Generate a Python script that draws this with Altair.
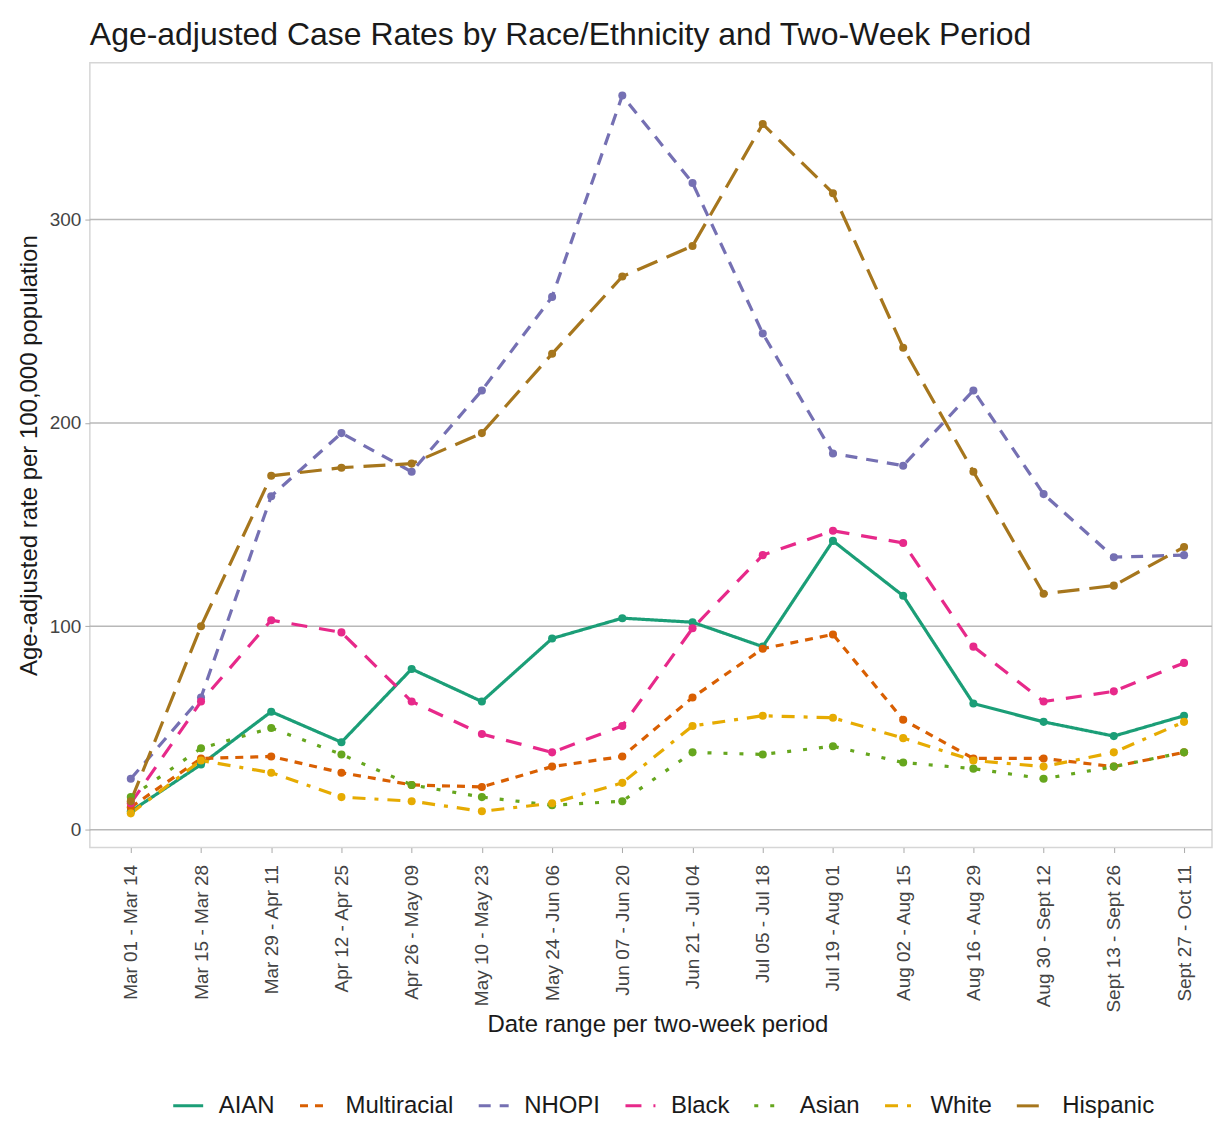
import altair as alt
import pandas as pd

periods = ["Mar 01 - Mar 14", "Mar 15 - Mar 28", "Mar 29 - Apr 11", "Apr 12 - Apr 25",
           "Apr 26 - May 09", "May 10 - May 23", "May 24 - Jun 06", "Jun 07 - Jun 20",
           "Jun 21 - Jul 04", "Jul 05 - Jul 18", "Jul 19 - Aug 01", "Aug 02 - Aug 15",
           "Aug 16 - Aug 29", "Aug 30 - Sept 12", "Sept 13 - Sept 26", "Sept 27 - Oct 11"]

groups = ["AIAN", "Multiracial", "NHOPI", "Black", "Asian", "White", "Hispanic"]

aian = [9, 32, 58, 43, 79, 63, 94, 104, 102, 90, 142, 115, 62, 53, 46, 56]
multiracial = [11, 35, 36, 28, 22, 21, 31, 36, 65, 89, 96, 54, 35, 35, 31, 38]
nhopi = [25, 65, 164, 195, 176, 216, 262, 361, 318, 244, 185, 179, 216, 165, 134, 135]
black = [13, 63, 103, 97, 63, 47, 38, 51, 99, 135, 147, 141, 90, 63, 68, 82]
asian = [16, 40, 50, 37, 22, 16, 12, 14, 38, 37, 41, 33, 30, 25, 31, 38]
white = [8, 34, 28, 16, 14, 9, 13, 23, 51, 56, 55, 45, 34, 31, 38, 53]
hispanic = [14, 100, 174, 178, 180, 195, 234, 272, 287, 347, 313, 237, 176, 116, 120, 139]

y_ticks = [0, 100, 200, 300]

series = [aian, multiracial, nhopi, black, asian, white, hispanic]

colors = ["#1b9e77", "#d95f02", "#7570b3", "#e7298a", "#66a61e", "#e6ab02", "#a6761d"]
dashes = [[1, 0], [8, 7], [12, 9], [16, 12], [4, 12], [13, 9, 4, 9], [22, 10]]

rows = []
for g, vals in zip(groups, series):
    for p, v in zip(periods, vals):
        rows.append({"group": g, "period": p, "rate": v})
df = pd.DataFrame(rows)
grid_df = pd.DataFrame({"rate": y_ticks})

FONT = "Liberation Sans"
PLOT_W = 1124
PLOT_H = 786

x_enc = alt.X(
    "period:O",
    sort=periods,
    scale=alt.Scale(type="point", padding=0, range=[41, 1096]),
    axis=alt.Axis(
        title="Date range per two-week period",
        labelAngle=270,
        labelAlign="right",
        labelBaseline="middle",
        labelFontSize=19,
        labelColor="#444444",
        labelPadding=12,
        tickSize=5,
        tickColor="#aaaaaa",
        domain=False,
        grid=False,
        titleFontSize=24,
        titleFontWeight="normal",
        titleColor="#1a1a1a",
        titlePadding=0,
    ),
)

y_scale = alt.Scale(domain=[-8.8, 377.1], nice=False, zero=False)

y_axis = alt.Axis(
    title="Age-adjusted rate per 100,000 population",
    values=y_ticks,
    labelFontSize=19,
    labelColor="#444444",
    labelPadding=4,
    tickSize=5,
    tickColor="#aaaaaa",
    domain=False,
    grid=False,
    titleFontSize=24,
    titleFontWeight="normal",
    titleColor="#1a1a1a",
    titlePadding=8,
)

y_enc = alt.Y("rate:Q", scale=y_scale, axis=y_axis)

legend_opts = dict(
    title=None,
    orient="none",
    legendX=82,
    legendY=1028,
    direction="horizontal",
    columns=7,
    symbolType="stroke",
    symbolSize=900,
    symbolStrokeWidth=3,
    labelFontSize=24,
    labelColor="#1a1a1a",
    labelOffset=14,
    columnPadding=18,
)

color_enc = alt.Color(
    "group:N",
    scale=alt.Scale(domain=groups, range=colors),
    legend=alt.Legend(**legend_opts),
)

dash_enc = alt.StrokeDash(
    "group:N",
    scale=alt.Scale(domain=groups, range=dashes),
    legend=alt.Legend(**legend_opts),
)

grid = alt.Chart(grid_df).mark_rule(color="#b8b8b8", strokeWidth=1.5).encode(
    y=y_enc,
    x=alt.value(0),
    x2=alt.value(PLOT_W),
)

base = alt.Chart(df)

lines = base.mark_line(strokeWidth=3.2).encode(
    x=x_enc, y=y_enc, color=color_enc, strokeDash=dash_enc,
    detail="group:N",
)

points = base.mark_circle(size=65, opacity=1).encode(
    x=x_enc, y=y_enc,
    color=alt.Color("group:N", scale=alt.Scale(domain=groups, range=colors), legend=None),
)

chart = (
    alt.layer(grid, lines, points)
    .properties(
        width=PLOT_W,
        height=PLOT_H,
        padding={"left": 9, "top": 10, "right": 0, "bottom": 5},
        title=alt.TitleParams(
            text="Age-adjusted Case Rates by Race/Ethnicity and Two-Week Period",
            anchor="start",
            frame="group",
            fontSize=32,
            fontWeight="normal",
            font=FONT,
            color="#1a1a1a",
            offset=11,
        ),
    )
    .configure(font=FONT)
    .configure_view(stroke="#d6d6d6", strokeWidth=1.5)
    .configure_axis(labelFont=FONT, titleFont=FONT)
    .configure_legend(labelFont=FONT)
)

chart.save("out.html", embed_options={"renderer": "svg", "actions": False})
